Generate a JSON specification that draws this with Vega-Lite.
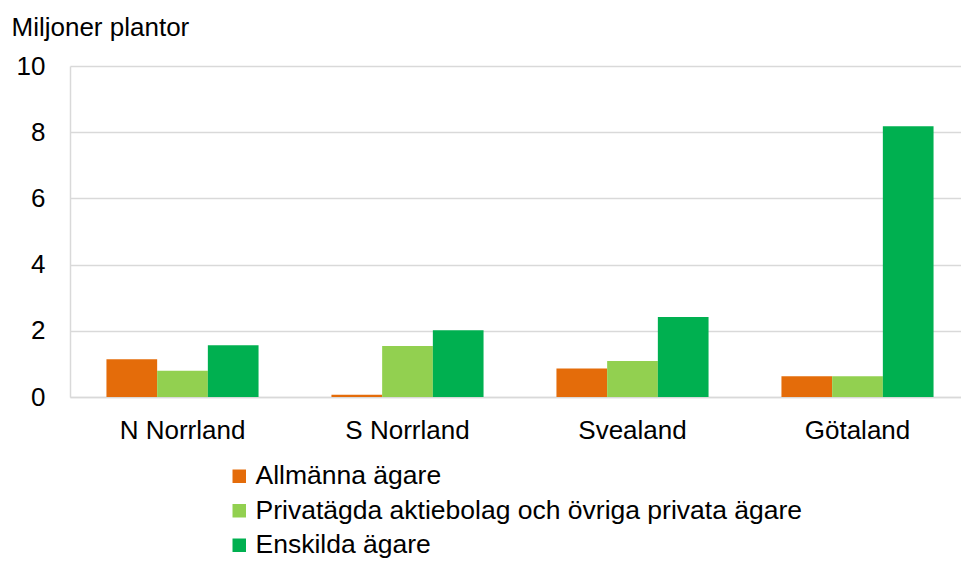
{
  "$schema": "https://vega.github.io/schema/vega-lite/v6.json",
  "autosize": "none",
  "width": 891,
  "height": 331,
  "padding": {"left": 70, "top": 66, "right": 0, "bottom": 168},
  "background": "white",
  "config": {
    "view": {"stroke": null},
    "font": "Liberation Sans"
  },
  "data": {
    "values": [
      {"region": "N Norrland", "owner": "Allmänna ägare", "value": 1.14},
      {"region": "N Norrland", "owner": "Privatägda aktiebolag och övriga privata ägare", "value": 0.79},
      {"region": "N Norrland", "owner": "Enskilda ägare", "value": 1.56},
      {"region": "S Norrland", "owner": "Allmänna ägare", "value": 0.07},
      {"region": "S Norrland", "owner": "Privatägda aktiebolag och övriga privata ägare", "value": 1.54},
      {"region": "S Norrland", "owner": "Enskilda ägare", "value": 2.02},
      {"region": "Svealand", "owner": "Allmänna ägare", "value": 0.86},
      {"region": "Svealand", "owner": "Privatägda aktiebolag och övriga privata ägare", "value": 1.09},
      {"region": "Svealand", "owner": "Enskilda ägare", "value": 2.42},
      {"region": "Götaland", "owner": "Allmänna ägare", "value": 0.63},
      {"region": "Götaland", "owner": "Privatägda aktiebolag och övriga privata ägare", "value": 0.63},
      {"region": "Götaland", "owner": "Enskilda ägare", "value": 8.18}
    ]
  },
  "mark": {"type": "bar"},
  "encoding": {
    "x": {
      "field": "region",
      "type": "nominal",
      "sort": ["N Norrland", "S Norrland", "Svealand", "Götaland"],
      "scale": {"range": [0, 900], "paddingInner": 0.324, "paddingOuter": 0.162},
      "axis": {
        "title": null,
        "labelAngle": 0,
        "labelFontSize": 26,
        "labelColor": "#000000",
        "labelPadding": 20,
        "ticks": false,
        "domain": true,
        "domainColor": "#D9D9D9",
        "domainWidth": 1.5
      }
    },
    "xOffset": {
      "field": "owner",
      "type": "nominal",
      "sort": ["Allmänna ägare", "Privatägda aktiebolag och övriga privata ägare", "Enskilda ägare"],
      "scale": {"paddingInner": 0, "paddingOuter": 0}
    },
    "y": {
      "field": "value",
      "type": "quantitative",
      "scale": {"domain": [0, 10], "nice": false},
      "axis": {
        "title": "Miljoner plantor",
        "titleAngle": 0,
        "titleAlign": "left",
        "titleBaseline": "alphabetic",
        "titleX": -59,
        "titleY": -31,
        "titleFontSize": 26,
        "titleFontWeight": "normal",
        "titleColor": "#000000",
        "values": [0, 2, 4, 6, 8, 10],
        "labelFontSize": 26,
        "labelColor": "#000000",
        "labelPadding": 25,
        "ticks": false,
        "domain": true,
        "domainColor": "#D9D9D9",
        "domainWidth": 1.5,
        "grid": true,
        "gridColor": "#D9D9D9",
        "gridWidth": 1.5
      }
    },
    "color": {
      "field": "owner",
      "type": "nominal",
      "sort": ["Allmänna ägare", "Privatägda aktiebolag och övriga privata ägare", "Enskilda ägare"],
      "scale": {
        "domain": ["Allmänna ägare", "Privatägda aktiebolag och övriga privata ägare", "Enskilda ägare"],
        "range": ["#E46C0A", "#92D050", "#00B050"]
      },
      "legend": {
        "title": null,
        "orient": "none",
        "legendX": 156,
        "legendY": 397,
        "direction": "vertical",
        "symbolType": "square",
        "symbolSize": 182,
        "symbolStrokeWidth": 0,
        "labelFontSize": 26.5,
        "labelColor": "#000000",
        "labelOffset": 3,
        "rowPadding": 7.5,
        "labelLimit": 700
      }
    }
  }
}
